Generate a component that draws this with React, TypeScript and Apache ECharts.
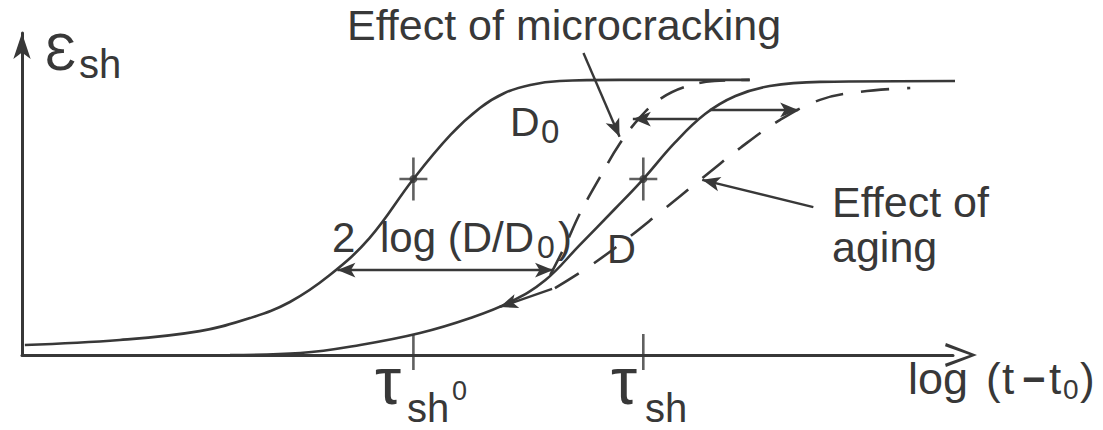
import React, { useEffect, useRef } from "react";
import * as echarts from "echarts";

const INK = "#383838";
const FONT = "'Liberation Sans', Arial, Helvetica, sans-serif";

// x: log(t - t0) (arbitrary log units), y: normalized shrinkage strain
const d0X = [0.03, 1.03, 1.87, 2.4, 2.82, 3.24, 3.66, 4.12, 4.51, 4.82, 5.08, 5.35, 5.66, 6.29, 7.66];
const d0Y = [0.036, 0.054, 0.086, 0.133, 0.191, 0.288, 0.422, 0.634, 0.793, 0.89, 0.944, 0.973, 0.987, 0.991, 0.991];

const dX = [2.19, 2.93, 3.56, 4.19, 4.72, 5.14, 5.51, 5.87, 6.24, 6.54, 6.87, 7.19, 7.51, 7.87, 8.4, 9.95];
const dY = [0, 0.007, 0.036, 0.079, 0.133, 0.191, 0.27, 0.396, 0.526, 0.634, 0.764, 0.868, 0.933, 0.969, 0.984, 0.987];

const microX = [5.56, 5.72, 5.87, 6.08, 6.29, 6.51, 6.72, 6.98, 7.29, 7.66];
const microY = [0.288, 0.396, 0.508, 0.638, 0.76, 0.858, 0.923, 0.966, 0.987, 0.991];

const agingX = [5.61, 5.98, 6.35, 6.72, 7.14, 7.56, 7.98, 8.4, 8.82, 9.35];
const agingY = [0.241, 0.321, 0.414, 0.515, 0.631, 0.746, 0.847, 0.919, 0.948, 0.962];

// characteristic times tau_sh0 and tau_sh and mid-point strain
const tauX = [4.12, 6.54];
const midY = [0.634, 0.634];

// annotation arrows: [x1, y1, x2, y2]
const arrowLogD = [3.32, 0.306, 5.59, 0.306];
const arrowLeftTop = [7.11, 0.85, 6.43, 0.85];
const arrowRightTop = [7.24, 0.883, 8.17, 0.883];
const arrowAlongD = [5.58, 0.238, 5.03, 0.173];
const pointerMicro = [5.91, 1.088, 6.29, 0.786];
const pointerAging = [8.33, 0.533, 7.16, 0.631];

const zip = (xs: number[], ys: number[]) => xs.map((x, i) => [x, ys[i]]);

const txt = (text: string, x: number, y: number, size: number, weight = "normal") => ({
  type: "text",
  x,
  y,
  silent: true,
  style: {
    text,
    font: `${weight} ${size}px ${FONT}`,
    fill: INK,
    align: "left",
    textAlign: "left",
    verticalAlign: "middle",
    textVerticalAlign: "middle",
  },
});

export default function App() {
  const ref = useRef<HTMLDivElement>(null);
  useEffect(() => {
    if (!ref.current) return;
    const chart = echarts.init(ref.current, undefined, { renderer: "svg" });
    const lineBase = {
      type: "line",
      showSymbol: false,
      symbol: "none",
      smooth: 0.4,
      clip: false,
      silent: true,
    };
    const seg = (a: number[], startSym: string, endSym: string, curveness = 0) => [
      { coord: [a[0], a[1]], symbol: startSym, lineStyle: { curveness } },
      { coord: [a[2], a[3]], symbol: endSym, lineStyle: { curveness } },
    ];
    chart.setOption({
      animation: false,
      backgroundColor: "#ffffff",
      grid: { left: 22, right: 150, top: 33, bottom: 75 },
      xAxis: {
        type: "value",
        min: 0,
        max: 9.8,
        axisLine: {
          show: true,
          onZero: false,
          symbol: ["none", "path://M0,34 L13,0 L26,34 L22.5,35 L13,8 L3.5,35 Z"],
          symbolSize: [26, 32],
          symbolOffset: [0, 8],
          lineStyle: { color: INK, width: 3 },
        },
        axisTick: { show: false },
        axisLabel: { show: false },
        splitLine: { show: false },
      },
      yAxis: {
        type: "value",
        min: 0,
        max: 1.16,
        axisLine: {
          show: true,
          onZero: false,
          symbol: ["none", "arrow"],
          symbolSize: [13, 26],
          lineStyle: { color: INK, width: 3 },
        },
        axisTick: { show: false },
        axisLabel: { show: false },
        splitLine: { show: false },
      },
      series: [
        {
          ...lineBase,
          name: "D0",
          data: zip(d0X, d0Y),
          lineStyle: { color: INK, width: 2.6 },
        },
        {
          ...lineBase,
          name: "D",
          data: zip(dX, dY),
          lineStyle: { color: INK, width: 2.6 },
          markLine: {
            silent: true,
            animation: false,
            symbolSize: [11, 18],
            label: { show: false },
            emphasis: { disabled: true },
            lineStyle: { color: INK, width: 2.4, type: "solid" },
            data: [
              seg(arrowLogD, "arrow", "arrow"),
              seg(arrowLeftTop, "none", "arrow"),
              seg(arrowRightTop, "none", "arrow"),
              seg(arrowAlongD, "none", "arrow"),
              seg(pointerMicro, "none", "arrow", -0.15),
              seg(pointerAging, "none", "arrow", 0.1),
            ],
          },
        },
        {
          ...lineBase,
          name: "microcracking",
          data: zip(microX, microY),
          lineStyle: { color: INK, width: 2.6, type: [26, 16] },
        },
        {
          ...lineBase,
          name: "aging",
          data: zip(agingX, agingY),
          lineStyle: { color: INK, width: 2.6, type: [28, 18] },
        },
        {
          type: "scatter",
          name: "ticks",
          silent: true,
          clip: false,
          symbol: "rect",
          symbolSize: [2.6, 36],
          symbolOffset: [0, -3],
          itemStyle: { color: INK },
          data: tauX.map((x) => [x, 0]),
        },
        {
          type: "scatter",
          name: "cross",
          silent: true,
          clip: false,
          symbol: "path://M12.7,0h2.6v43h-2.6zM0,20.2h28v2.6h-28z",
          symbolSize: [28, 43],
          itemStyle: { color: INK },
          data: zip(tauX, midY),
        },
        {
          type: "scatter",
          name: "dot",
          silent: true,
          clip: false,
          symbol: "circle",
          symbolSize: 8,
          itemStyle: { color: INK },
          data: zip(tauX, midY),
        },
      ],
      graphic: [
        txt("Effect of microcracking", 347, 25, 43),
        txt("Effect of", 832, 202, 43),
        txt("aging", 832, 247, 43),
        txt("D", 510, 122, 41),
        txt("0", 541, 131, 33),
        txt("D", 607, 249, 40),
        txt("2", 332, 237, 42),
        txt("log (D/D", 380, 237, 42),
        txt("0", 537, 247, 32),
        txt(")", 558, 237, 42),
        txt("Ɛ", 45, 52, 52),
        txt("sh", 79, 64, 40),
        txt("τ", 375, 381, 66),
        txt("sh", 407, 408, 40),
        txt("0", 452, 391, 27),
        txt("τ", 611, 381, 66),
        txt("sh", 645, 408, 40),
        txt("log", 908, 378, 45),
        txt("(", 986, 378, 44),
        txt("t", 1002, 378, 44),
        txt("−", 1022, 379, 40, "bold"),
        txt("t", 1049, 378, 44),
        txt("0", 1063, 389, 28),
        txt(")", 1080, 378, 44),
      ],
    });
    return () => chart.dispose();
  }, []);
  return (
    <div
      ref={ref}
      style={{ position: "fixed", left: 0, top: 0, width: 1103, height: 430, background: "#fff" }}
    />
  );
}
